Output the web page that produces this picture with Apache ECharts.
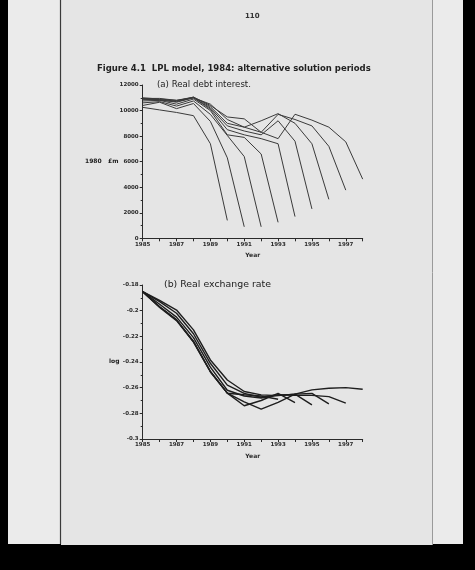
<!DOCTYPE html>
<html><head><meta charset="utf-8">
<script src="https://cdn.jsdelivr.net/npm/echarts@6/dist/echarts.min.js"></script>
<style>html,body{margin:0;padding:0;background:#000;}#c{width:475px;height:570px;}</style>
</head><body><div id="c"></div>
<script>
// ---- data ----
var years = [1985,1986,1987,1988,1989,1990,1991,1992,1993,1994,1995,1996,1997,1998];
var xTickLabels = ['1985','1987','1989','1991','1993','1995','1997'];

// (a) Real debt interest, 1980 £m — one line per solution period (ending 1990..1998)
var debt1990 = [10250,10050,9850,9600,7400,1400];
var debt1991 = [10400,10650,10150,10550,9150,6300,900];
var debt1992 = [10600,10700,10350,10750,9700,8050,6400,900];
var debt1993 = [10750,10800,10500,10900,10000,8100,7900,6600,1250];
var debt1994 = [10850,10850,10650,11000,10100,8500,8100,7800,7400,1700];
var debt1995 = [10900,10800,10700,11000,10200,8800,8400,8100,9200,7600,2300];
var debt1996 = [10950,10850,10750,11050,10300,9000,8700,9200,9760,9000,7400,3050];
var debt1997 = [11000,10900,10800,11050,10400,9500,9350,8300,9700,9300,8800,7200,3770];
var debt1998 = [10950,10950,10800,11000,10500,9300,8700,8300,7800,9710,9250,8700,7550,4630];
var debtTicks = [0,2000,4000,6000,8000,10000,12000];

// (b) Real exchange rate, log — one line per solution period (ending 1993..1998)
var rate1993 = [-0.1852,-0.1970,-0.2072,-0.2240,-0.2474,-0.2643,-0.2655,-0.2665,-0.2690];
var rate1994 = [-0.1852,-0.1970,-0.2072,-0.2240,-0.2474,-0.2643,-0.2741,-0.2700,-0.2645,-0.2716];
var rate1995 = [-0.1852,-0.1975,-0.2078,-0.2245,-0.2478,-0.2643,-0.2710,-0.2767,-0.2715,-0.2650,-0.2734];
var rate1996 = [-0.1852,-0.1950,-0.2050,-0.2210,-0.2440,-0.2620,-0.2665,-0.2680,-0.2660,-0.2650,-0.2645,-0.2726];
var rate1997 = [-0.1852,-0.1930,-0.2020,-0.2180,-0.2410,-0.2580,-0.2645,-0.2675,-0.2655,-0.2660,-0.2660,-0.2670,-0.2720];
var rate1998 = [-0.1852,-0.1920,-0.1995,-0.2150,-0.2384,-0.2540,-0.2630,-0.2656,-0.2662,-0.2650,-0.2617,-0.2604,-0.2600,-0.2612];
var rateTicks = [-0.3,-0.28,-0.26,-0.24,-0.22,-0.2,-0.18];

var debtSeries = [debt1990,debt1991,debt1992,debt1993,debt1994,debt1995,debt1996,debt1997,debt1998];
var rateSeries = [rate1993,rate1994,rate1995,rate1996,rate1997,rate1998];

function pairs(vals){ return vals.map(function(v,i){ return [years[i], v]; }); }

var FONT = 'DejaVu Sans';
var ink = '#2a2a2a';
function xAxis(gi){
  return {
    type:'value', gridIndex:gi, min:1985, max:1998, interval:1,
    axisLine:{show:true, onZero:false, lineStyle:{color:ink,width:1}},
    axisTick:{show:true, length:3, lineStyle:{color:ink}},
    splitLine:{show:false},
    axisLabel:{fontFamily:FONT, fontSize:5.5, fontWeight:'bold', color:ink, margin:3,
      formatter:function(v){ var s=String(Math.round(v)); return xTickLabels.indexOf(s)>=0 ? s : ''; }},
    name:'Year', nameLocation:'middle', nameGap:14,
    nameTextStyle:{fontFamily:FONT, fontSize:6, fontWeight:'bold', color:ink}
  };
}
function yAxis(gi, min, max, interval, fmt){
  return {
    type:'value', gridIndex:gi, min:min, max:max, interval:interval,
    axisLine:{show:true, onZero:false, lineStyle:{color:ink,width:1}},
    axisTick:{show:true, length:3, lineStyle:{color:ink}},
    minorTick:{show:true, splitNumber:2, length:2, lineStyle:{color:ink}},
    splitLine:{show:false},
    axisLabel:{fontFamily:FONT, fontSize:5.5, fontWeight:'bold', color:ink, margin:4, formatter:fmt}
  };
}

var series = [];
debtSeries.forEach(function(d){
  series.push({type:'line', xAxisIndex:0, yAxisIndex:0, data:pairs(d), symbol:'none',
    lineStyle:{color:'#3a3a3a', width:1}, silent:true, animation:false});
});
rateSeries.forEach(function(d){
  series.push({type:'line', xAxisIndex:1, yAxisIndex:1, data:pairs(d), symbol:'none',
    lineStyle:{color:'#1e1e1e', width:1.4}, silent:true, animation:false});
});

var chart = echarts.init(document.getElementById('c'), null, {renderer:'canvas'});
chart.setOption({
  backgroundColor:'#000',
  animation:false,
  graphic:[
    {type:'rect', z:-10, shape:{x:8,y:0,width:455,height:544}, style:{fill:'#ebebeb'}},
    {type:'rect', z:-9, shape:{x:61,y:0,width:371,height:545}, style:{fill:'#e5e5e5'}},
    {type:'line', z:-8, shape:{x1:60.5,y1:0,x2:60.5,y2:544}, style:{stroke:'#3a3a3a',lineWidth:1.2}},
    {type:'line', z:-8, shape:{x1:432.5,y1:0,x2:432.5,y2:545}, style:{stroke:'#9a9a9a',lineWidth:1}},
    {type:'text', left:245, top:13, style:{text:'110', font:'bold 7px "DejaVu Sans"', fill:'#333'}},
    {type:'text', left:97, top:64, style:{text:'Figure 4.1  LPL model, 1984: alternative solution periods', font:'bold 8.5px "DejaVu Sans"', fill:'#222'}},
    {type:'text', left:157, top:80, style:{text:'(a) Real debt interest.', font:'8.6px "DejaVu Sans"', fill:'#222'}},
    {type:'text', left:85, top:158, style:{text:'1980   \u00a3m', font:'bold 6px "DejaVu Sans"', fill:'#222'}},
    {type:'text', left:164, top:280, style:{text:'(b) Real exchange rate', font:'9.4px "DejaVu Sans"', fill:'#222'}},
    {type:'text', left:109, top:358, style:{text:'log', font:'bold 6px "DejaVu Sans"', fill:'#222'}}
  ],
  grid:[
    {left:142.7, top:85, width:220, height:153.3, containLabel:false},
    {left:142.7, top:285, width:220, height:154, containLabel:false}
  ],
  xAxis:[xAxis(0), xAxis(1)],
  yAxis:[
    yAxis(0, debtTicks[0], debtTicks[debtTicks.length-1], 2000, function(v){ return String(v); }),
    yAxis(1, rateTicks[0], rateTicks[rateTicks.length-1], 0.02, function(v){ return String(parseFloat(v.toFixed(2))); })
  ],
  series:series
});
</script>
</body></html>
